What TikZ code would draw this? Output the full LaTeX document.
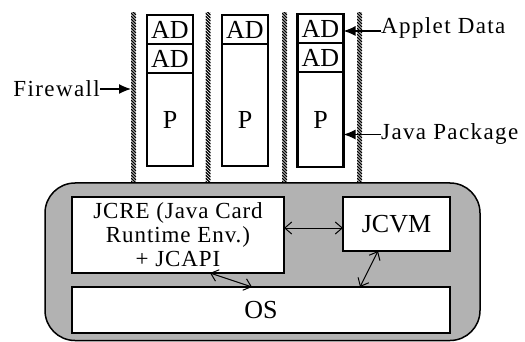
\documentclass[tikz,border=0pt]{standalone}
\usepackage{fontspec}
\setmainfont{Liberation Serif}
\newfontfamily\labelfont{Liberation Serif}[LetterSpace=6]
\newfontfamily\layerfont{Liberation Serif}[LetterSpace=4]
\usetikzlibrary{positioning,arrows.meta}
\tikzset{
 adcell/.style={draw,line width=2.5pt,minimum width=46pt,minimum height=29pt,inner sep=0pt,outer sep=0pt},
 pcell/.style={adcell,minimum height=93pt},
 layer/.style={draw,fill=white,line width=1.8pt,inner sep=0pt,outer sep=0pt},
 side/.style={inner sep=0pt,font=\labelfont\fontsize{23}{24}\selectfont},
 fwarrow/.style={line width=1.3pt,-{Latex[length=12pt,width=10pt]}},
 twoway/.style={line width=1pt,{Straight Barb[length=7pt,width=12pt]}-{Straight Barb[length=7pt,width=12pt]}}
}
\begin{document}
\begin{tikzpicture}[x=1pt,y=-1pt,font=\fontsize{26}{28}\selectfont]
 \useasboundingbox (0,0) rectangle (525,342);
 \fill[white] (0,0) rectangle (525,342);
 % firewalls
 \foreach \fx [count=\i] in {131,205.5,282,357}{
  \coordinate (fw\i) at (\fx,13);
  \begin{scope}
   \clip (\fx,13) rectangle ++(5,170);
   \foreach \fy in {7,10,...,183} \draw[line width=1.3pt] (\fx,\fy) -- ++(5,5);
  \end{scope}
 }
 % card
 \draw[fill=gray!60,line width=1.5pt,rounded corners=30pt] (45,183) rectangle (480,340.5);
 % applets
 \node[adcell] (s1a) at (170,29.5) {AD};
 \node[adcell,below=0pt of s1a] (s1b) {AD};
 \node[pcell,below=0pt of s1b] (s1p) {P};
 \node[adcell] (s2a) at (245,29.5) {AD};
 \node[pcell,minimum height=122pt,below=0pt of s2a] (s2p) {};
 \node at (s2p |- s1p) {P};
 \node[adcell] (s3a) at (320.5,28.5) {AD};
 \node[adcell,below=0pt of s3a] (s3b) {AD};
 \node[pcell,minimum height=95pt,below=0pt of s3b] (s3p) {P};
 % labels
 \node[side,anchor=east] (fwlabel) at (100,89) {Firewall};
 \draw[fwarrow] (fwlabel.east) -- (fwlabel.east -| fw1);
 \node[side,anchor=base west] (adlabel) at (381,33.5) {Applet Data};
 \draw[fwarrow] ([yshift=-3pt]adlabel.west) -- ([yshift=-3pt]adlabel.west -| s3a.east);
 \node[side,anchor=base west] (pklabel) at (381,140) {Java Package};
 \draw[fwarrow] (pklabel.west) -- (pklabel.west -| s3p.east);
 % layers
 \node[layer,minimum width=212pt,minimum height=76pt,align=center,font=\layerfont\fontsize{23}{24}\selectfont] (jcre) at (178,235) {JCRE (Java Card\\Runtime Env.)\\+ JCAPI};
 \node[layer,minimum width=107pt,minimum height=54pt] (jcvm) at (396.5,224) {JCVM};
 \node[layer,minimum width=378pt,minimum height=46pt] (os) at (261,310) {OS};
 \draw[twoway] ([yshift=-4pt]jcvm.west -| jcre.east) -- ([yshift=-4pt]jcvm.west);
 \draw[twoway] ([xshift=32pt]jcre.south) -- ([xshift=-9pt]os.north);
 \draw[twoway] ([xshift=-18.5pt]jcvm.south) -- ([xshift=99pt]os.north);
\end{tikzpicture}
\end{document}
